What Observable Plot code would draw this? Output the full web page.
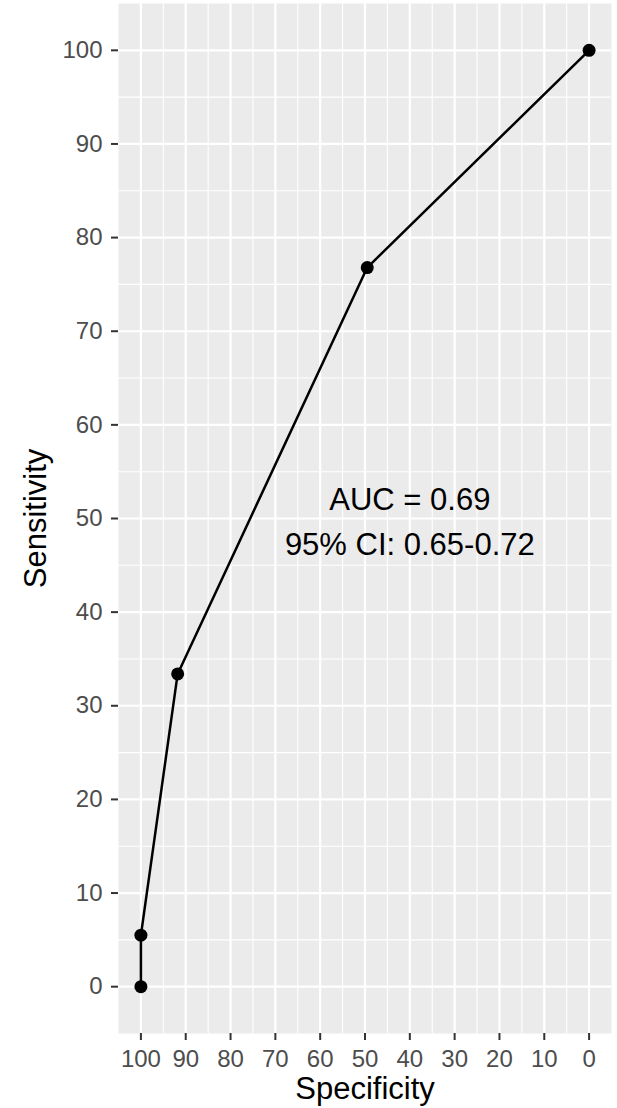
<!DOCTYPE html>
<html>
<head>
<meta charset="utf-8">
<script src="https://cdn.jsdelivr.net/npm/d3@7"></script>
<script src="https://cdn.jsdelivr.net/npm/@observablehq/plot@0.6"></script>
<style>
  html, body { margin: 0; padding: 0; background: white; }
  svg { display: block; }
</style>
</head>
<body>
<div id="chart"></div>
<script>
// ROC curve points
const specificity = [100, 100, 91.8, 49.5, 0];
const sensitivity = [0, 5.5, 33.4, 76.8, 100];
const majorTicks = [0, 10, 20, 30, 40, 50, 60, 70, 80, 90, 100];
const minorTicks = [5, 15, 25, 35, 45, 55, 65, 75, 85, 95];
const annotation = "AUC = 0.69\n95% CI: 0.65-0.72";
const annotationPos = {specificity: 40, sensitivity: 50};
const xTitle = "Specificity";
const yTitle = "Sensitivity";

const data = specificity.map((s, i) => ({specificity: s, sensitivity: sensitivity[i]}));

const font = "'Liberation Sans', Arial, Helvetica, sans-serif";

const chart = Plot.plot({
  width: 617,
  height: 1108,
  marginLeft: 118,
  marginRight: 6,
  marginTop: 3,
  marginBottom: 75,
  style: {background: "white", fontFamily: font, overflow: "visible"},
  x: {domain: [-5, 105], reverse: true},
  y: {domain: [-5, 105]},
  marks: [
    Plot.frame({fill: "#EBEBEB", stroke: null}),
    Plot.ruleX(minorTicks, {stroke: "white", strokeWidth: 1.1}),
    Plot.ruleY(minorTicks, {stroke: "white", strokeWidth: 1.1}),
    Plot.ruleX(majorTicks, {stroke: "white", strokeWidth: 2.2}),
    Plot.ruleY(majorTicks, {stroke: "white", strokeWidth: 2.2}),
    Plot.axisX({ticks: majorTicks, text: null, label: null, tickSize: 7, stroke: "#333333", strokeWidth: 2}),
    Plot.axisY({ticks: majorTicks, text: null, label: null, tickSize: 7, stroke: "#333333", strokeWidth: 2}),
    Plot.axisX({ticks: majorTicks, label: null, tickSize: 0, tickPadding: 16, fontSize: 24, fill: "#4D4D4D"}),
    Plot.axisY({ticks: majorTicks, label: null, tickSize: 0, tickPadding: 16, fontSize: 24, fill: "#4D4D4D"}),
    Plot.line(data, {x: "specificity", y: "sensitivity", stroke: "black", strokeWidth: 2.5}),
    Plot.dot(data, {x: "specificity", y: "sensitivity", r: 6.5, fill: "black", stroke: null}),
    Plot.text([annotation], {x: () => annotationPos.specificity, y: () => annotationPos.sensitivity, text: d => d, fontSize: 31, lineHeight: 1.45, fill: "black"}),
    Plot.text([xTitle], {frameAnchor: "bottom", dy: 56, textAnchor: "middle", lineAnchor: "middle", text: d => d, fontSize: 31, fill: "black"}),
    Plot.text([yTitle], {frameAnchor: "left", dx: -82, rotate: -90, textAnchor: "middle", lineAnchor: "middle", text: d => d, fontSize: 31, fill: "black"})
  ]
});
document.getElementById("chart").appendChild(chart);
</script>
</body>
</html>
